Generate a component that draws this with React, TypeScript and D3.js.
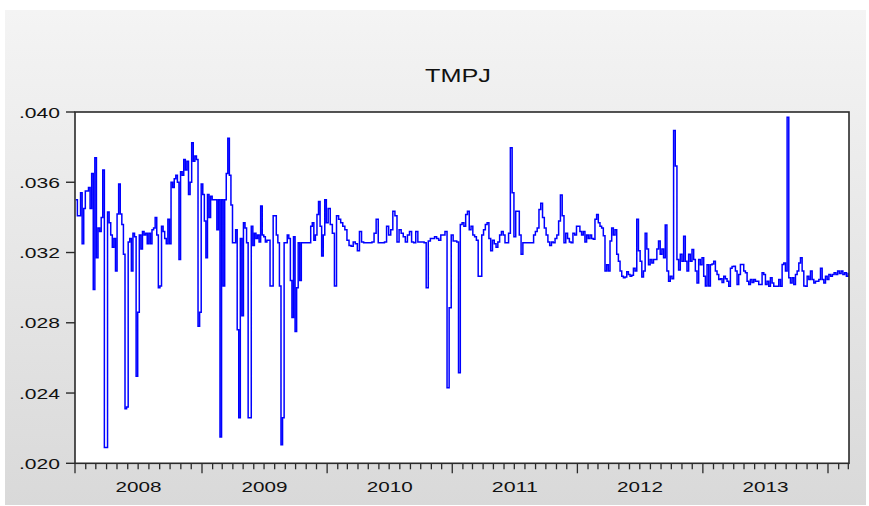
import React from 'react';
import * as d3 from 'd3';

// Values in units of 0.0001, spread evenly across each calendar year
const YEARS = [2008, 2009, 2010, 2011, 2012, 2013, 2014];
const v2008 = [
  350, 341, 341, 354, 325, 345, 355, 355, 357, 345,
  365, 299, 374, 317, 334, 332, 340, 367, 209, 209,
  343, 337, 330, 323, 328, 309.5, 342, 359, 342, 336,
  319, 231, 232, 326, 328, 309.5, 331, 329, 249.5, 286,
  330, 322, 332, 330, 331, 325, 331, 325, 333, 334,
  340, 330, 300, 301, 335, 332, 328, 325, 339, 325,
  360, 357, 362, 364, 360, 316, 366, 364, 373, 367,
  372, 353, 360, 382.5, 372, 375, 373, 278, 286, 359,
];
const v2009 = [
  353, 338, 317, 353, 340, 352, 350, 350, 350, 333,
  350, 215, 350, 301, 350, 365, 385, 364, 347, 325.5,
  325.5, 333, 276, 226, 328, 284, 337, 334, 325.5, 226,
  226, 335, 324, 331, 328, 330, 326, 346.5, 330, 329,
  326, 327, 327, 301, 301, 341, 341, 330, 325.5, 301,
  210.6, 226, 325.5, 325.5, 330, 328, 304, 283, 329, 275,
  300, 325.5, 304, 325.5, 325.5, 325.5, 325.5, 325.5, 325.5, 335,
  337, 327, 330, 341.7, 349, 335, 318, 330, 350, 337,
];
const v2010 = [
  345, 336, 331, 301, 341, 339, 337, 335, 333, 327,
  324, 323.5, 326, 325, 321, 332, 326, 325.5, 325.5, 325.5,
  325.5, 326, 331, 339, 325.5, 325.5, 325.5, 326, 335, 330,
  333, 343.5, 341, 326, 333, 331, 329, 326, 330, 332,
  326, 325.5, 332, 326, 326, 326, 325.5, 300, 326.5, 328,
  328, 329, 328, 327, 330, 330, 332, 243, 288.5, 330,
];
const v2011 = [
  326.5, 326.5, 326, 251.5, 336, 337, 335, 341.7, 343.5, 333,
  335, 330, 329, 327, 306.5, 306.5, 330, 333, 336, 337,
  328, 321, 327, 325, 323, 326, 330, 332, 330, 325.5,
  325.5, 331, 379.7, 354, 329, 343.5, 343.5, 330, 319, 325.5,
  325.5, 325.5, 325.5, 325.5, 325.5, 330, 332, 334, 344.5, 348,
  340, 334, 330, 326, 324, 326, 325.5, 328, 330, 338,
  352.7, 341, 325.5, 331, 328, 326, 325.5, 331, 330, 335,
];
const v2012 = [
  335, 332, 330, 332, 326, 330, 328, 330, 328, 327.5,
  339, 341.7, 337, 335, 334, 329.5, 309.5, 313, 309.5, 326.5,
  334, 330, 333, 319, 315, 309.5, 306.5, 305.6, 306, 309,
  307.5, 306.5, 307, 311, 309.5, 339, 321, 315, 306, 309.5,
  331, 322, 313, 316, 314, 316, 316, 322, 326.5, 319,
  322, 317, 335.6, 309.5, 303.7, 306.5, 305, 389.5, 369.2, 316,
  310, 319, 315, 329.3, 315, 309.5, 319, 315, 321.7, 316,
  309.5, 302.7, 316, 313, 317,
];
const v2013 = [
  306.5, 301, 313, 301, 313, 313.5, 315, 309.5, 307.5, 304.6,
  305, 303, 306.5, 305, 303.7, 300.8, 311, 312, 312.2, 309.5,
  301.8, 307.5, 313.2, 313.2, 309.5, 308.5, 303.7, 301.8, 304.6, 303,
  304.6, 303.7, 303.7, 301.8, 301.8, 308.5, 307.5, 301.8, 303.7, 300.8,
  305.6, 302.7, 300.8, 300.8, 300.8, 304.6, 300.8, 313.2, 314, 309.5,
  397, 305.6, 302.7, 305.6, 301.8, 307.5, 309.5, 314, 317, 309.5,
  301, 300.8, 306.5, 304.6, 309.5, 304.6, 302.7, 303.7, 303.7, 304.6,
  311, 304.6, 302.7, 306.5, 304.6,
];
const v2014 = [307.5, 306.5, 307.5, 308.5, 307.5, 309.5, 308, 309.5, 307.5, 308.5, 306.5, 308.5];
const SERIES_BY_YEAR = [v2008, v2009, v2010, v2011, v2012, v2013, v2014];

const Y_TICKS = [0.02, 0.024, 0.028, 0.032, 0.036, 0.04];
const Y_TICK_LABELS = ['.020', '.024', '.028', '.032', '.036', '.040'];
const YEAR_LABELS = ['2008', '2009', '2010', '2011', '2012', '2013'];
const TITLE = 'TMPJ';
const END_DATE = new Date(2014, 2, 3);

export default function App() {
  const W = 869;
  const H = 506;
  const left = 75;
  const right = 849;
  const top = 112;
  const bottom = 463.3;
  const font = 'Liberation Sans, Arial, sans-serif';

  const x = d3
    .scaleTime()
    .domain([new Date(2008, 0, 1), new Date(2009, 0, 1), new Date(2014, 0, 1), END_DATE])
    .range([left, 202, 828, right]);
  const y = d3.scaleLinear().domain([0.02, 0.04]).range([bottom, top]);

  const data: { date: Date; value: number }[] = [];
  SERIES_BY_YEAR.forEach((vals, k) => {
    const start = new Date(YEARS[k], 0, 1).getTime();
    const end = k === SERIES_BY_YEAR.length - 1 ? END_DATE.getTime() : new Date(YEARS[k] + 1, 0, 1).getTime();
    vals.forEach((v, i) => {
      data.push({ date: new Date(start + ((i + 0.5) / vals.length) * (end - start)), value: v / 10000 });
    });
  });

  const line = d3
    .line<{ date: Date; value: number }>()
    .x((d) => x(d.date))
    .y((d) => y(d.value))
    .curve(d3.curveStepAfter);

  const months = d3.timeMonth.range(new Date(2008, 0, 1), END_DATE);

  return (
    <svg width={W} height={H} style={{ position: 'absolute', left: 0, top: 0 }}>
      <defs>
        <linearGradient id="bg" x1="0" y1="0" x2="0" y2="1">
          <stop offset="0" stopColor="#f4f4f4" />
          <stop offset="1" stopColor="#d9d9d9" />
        </linearGradient>
      </defs>
      <rect x={0} y={0} width={W} height={H} fill="#ffffff" />
      <rect x={5} y={10} width={861} height={495} fill="url(#bg)" />
      <text x={458} y={82} textAnchor="middle" fontFamily={font} fontSize={19} fill="#111" textLength={66} lengthAdjust="spacingAndGlyphs">
        {TITLE}
      </text>
      <rect x={left} y={top} width={right - left} height={bottom - top} fill="#ffffff" />
      <path d={line(data) || ''} fill="none" stroke="#0000ff" strokeWidth={1.5} />
      <rect x={left} y={top} width={right - left} height={bottom - top} fill="none" stroke="#2a2a2a" strokeWidth={1.6} />
      {Y_TICKS.map((t, i) => (
        <g key={i}>
          <line x1={left - 9} x2={left} y1={y(t)} y2={y(t)} stroke="#2a2a2a" strokeWidth={1.4} />
          <text x={60} y={y(t) + 5.5} textAnchor="end" fontFamily={font} fontSize={15} fill="#111" textLength={41} lengthAdjust="spacingAndGlyphs">
            {Y_TICK_LABELS[i]}
          </text>
        </g>
      ))}
      {months.map((m, i) => (
        <line
          key={i}
          x1={x(m)}
          x2={x(m)}
          y1={bottom}
          y2={bottom + (m.getMonth() === 0 ? 10 : 6)}
          stroke="#2a2a2a"
          strokeWidth={1.3}
        />
      ))}
      {YEAR_LABELS.map((lab, i) => {
        const yr = 2008 + i;
        const cx = (x(new Date(yr, 0, 1)) + x(new Date(yr + 1, 0, 1))) / 2;
        return (
          <text key={lab} x={cx} y={492} textAnchor="middle" fontFamily={font} fontSize={15} fill="#111" textLength={46} lengthAdjust="spacingAndGlyphs">
            {lab}
          </text>
        );
      })}
    </svg>
  );
}
